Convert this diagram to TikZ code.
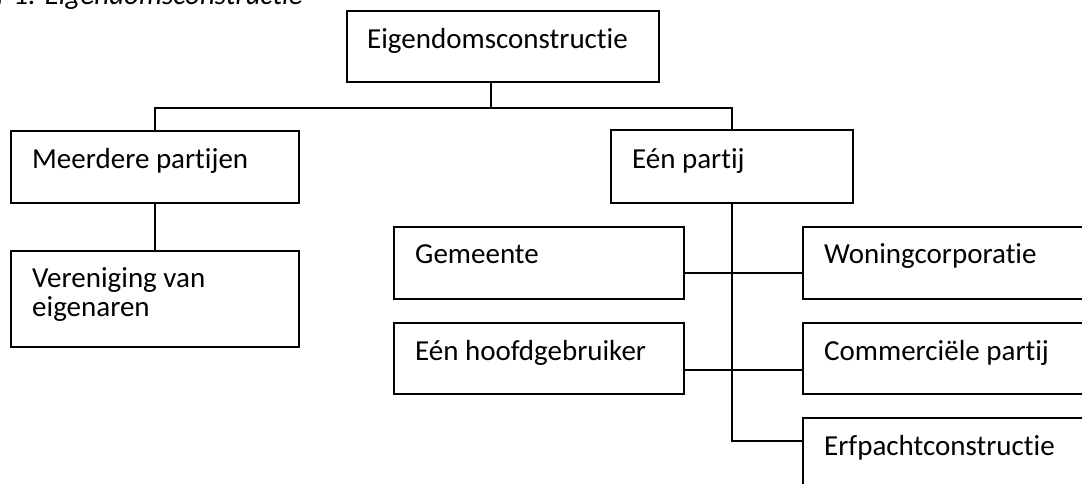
\documentclass[tikz,border=0pt]{standalone}
\usepackage{fontspec}
\setmainfont{Carlito}[Ligatures=NoCommon]
\begin{document}
\begin{tikzpicture}[x=1pt, y=-1pt,
  bx/.style={draw, line width=1.8pt, rectangle, anchor=north west, inner sep=0pt},
  lbl/.style={anchor=base west, inner sep=0pt, font=\fontsize{29}{29}\selectfont},
  wire/.style={line width=1.8pt}]
\useasboundingbox (0,0) rectangle (1082,483);
\clip (0,0) rectangle (1082,483);

% caption, partly cut off at the top edge
\node[anchor=base east, inner sep=0pt, font=\fontsize{29}{29}\selectfont\itshape] (cap) at (303,4) {Figuur 1: Eigendomsconstructie};

% boxes: name, top-left corner, size
\node[bx, minimum width=312pt, minimum height=71pt] (top) at (346,10) {};
\node[bx, minimum width=288pt, minimum height=72pt] (meer) at (10,130) {};
\node[bx, minimum width=288pt, minimum height=96pt] (ver) at (10,250) {};
\node[bx, minimum width=242pt, minimum height=73pt] (een) at (610,129) {};
\node[bx, minimum width=290pt, minimum height=72pt] (gem) at (393,226) {};
\node[bx, minimum width=290pt, minimum height=71pt] (hoofd) at (393,322) {};
\node[bx, minimum width=300pt, minimum height=72pt] (won) at (802,226) {};
\node[bx, minimum width=300pt, minimum height=71pt] (com) at (802,322) {};
\node[bx, minimum width=300pt, minimum height=72pt] (erf) at (802,417) {};

% texts
\node[lbl] (ttop) at ([xshift=21pt,yshift=-38pt]top.north west) {Eigendomsconstructie};
\node[lbl] (tmeer) at ([xshift=22pt,yshift=-38pt]meer.north west) {Meerdere partijen};
\node[lbl] (tver) at ([xshift=22pt,yshift=-37pt]ver.north west) {\vtop{\baselineskip=29pt\hbox{Vereniging van}\hbox{eigenaren}}};
\node[lbl] (teen) at ([xshift=22pt,yshift=-39pt]een.north west) {Eén partij};
\node[lbl] (tgem) at ([xshift=22pt,yshift=-37pt]gem.north west) {Gemeente};
\node[lbl] (thoofd) at ([xshift=22pt,yshift=-38pt]hoofd.north west) {Eén hoofdgebruiker};
\node[lbl] (twon) at ([xshift=22pt,yshift=-37pt]won.north west) {Woningcorporatie};
\node[lbl] (tcom) at ([xshift=22pt,yshift=-38pt]com.north west) {Commerciële partij};
\node[lbl] (terf) at ([xshift=22pt,yshift=-38pt]erf.north west) {Erfpachtconstructie};

% connectors
\coordinate (bus) at ([xshift=-12pt,yshift=-25pt]top.south);
\draw[wire] ([xshift=-12pt]top.south) -- (bus);
\draw[wire] (meer.north) |- (bus) -| (een.north);
\draw[wire] (meer.south) -- (ver.north);
\draw[wire] (een.south) |- ([yshift=-24pt]erf.north west);
\draw[wire] ([yshift=-47pt]gem.north east) -- ([yshift=-47pt]won.north west);
\draw[wire] ([yshift=-48pt]hoofd.north east) -- ([yshift=-48pt]com.north west);
\end{tikzpicture}
\end{document}
